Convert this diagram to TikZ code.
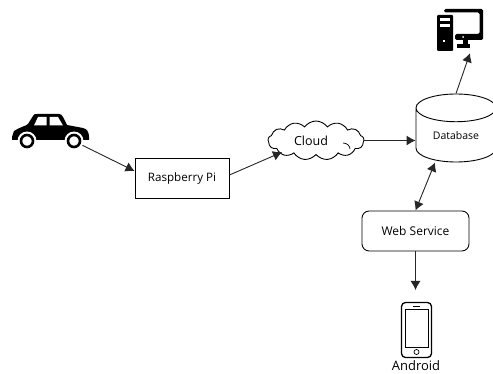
\documentclass[tikz,border=0pt]{standalone}
\usepackage{fontspec}
\setmainfont{Open Sans}
\usetikzlibrary{arrows.meta,shapes.geometric,shapes.symbols}
\begin{document}
\begin{tikzpicture}[x=1pt,y=-1pt,
        box/.style={draw=black,rectangle,line width=0.9pt,inner sep=0pt,minimum width=94pt,minimum height=40pt,font=\fontsize{11.6}{13}\selectfont},
        roundbox/.style={box,rounded corners=2.5mm,minimum width=107pt,font=\fontsize{12}{14}\selectfont},
        icon/.style={rectangle,inner sep=0pt},
        conn/.style={draw=black!85,line width=0.9pt,-{Latex[length=9pt,width=10pt]}}
      ]
      \useasboundingbox (0,0) rectangle (493,374);
      % icons are empty nodes, their shapes are drawn after the connectors
      \node[icon,minimum width=78pt,minimum height=33pt] (car) at (51,130.5) {};
      \node[icon,minimum width=46pt,minimum height=42pt] (pc) at (460,30) {};
      \node[icon,minimum width=31pt,minimum height=56pt] (phone) at (416.5,330) {};
      \node[box] (pi) at (182,178) {Raspberry Pi};
      \node[draw=black,cloud,cloud puffs=13,cloud puff arc=110,aspect=2.5,line width=0.9pt,inner sep=0pt,minimum width=96pt,minimum height=39pt,font=\fontsize{12.5}{14}\selectfont] (cloud) at (316,140.5) {\raisebox{-2pt}{Cloud\hspace*{10pt}}};
      \node[draw=black,cylinder,shape border rotate=90,aspect=0.6,line width=0.9pt,minimum width=80pt,minimum height=68pt,inner sep=0pt,anchor=shape center,font=\fontsize{10.5}{12}\selectfont] (db) at (456,128) {Database};
      \node[roundbox] (web) at (415.5,231) {Web Service};
      \node[inner sep=0pt,font=\fontsize{13}{15}\selectfont] (android) at (416,366) {Android};

      \draw[conn] ([xshift=-8pt,yshift=2pt]car.south east) -- ([yshift=7pt]pi.west);
      \draw[conn] ([yshift=3pt]pi.east) -- ([xshift=-34pt,yshift=3pt]cloud.south);
      \draw[conn] (cloud.east) -- (db.west |- cloud.east);
      \draw[conn] (db.north) -- ([xshift=10pt,yshift=-2pt]pc.south);
      \draw[conn,{Latex[length=9pt,width=10pt]}-{Latex[length=9pt,width=10pt]}] ([xshift=-21pt]db.south) -- (web.north);
      \draw[conn] (web.south) -- (web.south |- 0,290);

      % cloud crease
      \draw[line width=0.7pt] (343,143) .. controls (347,143) and (350,146) .. (350,149);
      % car
      \fill (12,137) -- (14,131) .. controls (20,127) and (26,126) .. (28,124) -- (33,116) .. controls (34,114) and (35,114) .. (37,114) -- (59,114) .. controls (61,114) and (62,115) .. (63,117) -- (67,125) -- (83,128) .. controls (87,129) and (89,132) .. (89,137) -- (89,140) -- (12,140) -- cycle;
      \fill[white] (34,125.5) -- (38,117) -- (46.5,117) -- (46.5,125.5) -- cycle;
      \fill[white] (49.5,117) -- (58,117) -- (63,125.5) -- (49.5,125.5) -- cycle;
      \foreach \wheelx in {27,74} {
        \fill[white] (\wheelx,141) circle (9.5pt);
        \draw[line width=2.6pt] (\wheelx,141) circle (6pt);
      }
      % computer
      \fill[rounded corners=1.5pt] (444,9) -- (483,9) -- (483,40) -- (455,40) -- (455,34) -- (479.5,34) -- (479.5,12.5) -- (444,12.5) -- cycle;
      \fill[rounded corners=1pt] (437,15) rectangle (453,51);
      \fill[white] (440,18) rectangle (450,21);
      \fill[white] (440,24) rectangle (450,27);
      \fill[white] (442.5,40) rectangle (444.5,42);
      \fill[white] (463,37) circle (1pt);
      \fill (463,40) rectangle (468,44);
      \fill (457,44) -- (470,44) -- (470,48) -- (457,48) -- cycle;
      % phone
      \draw[line width=1.3pt,rounded corners=4pt] (401.5,302.5) rectangle (431.5,357.5);
      \draw[line width=0.8pt] (405,309) rectangle (428,347);
      \draw[line width=0.8pt] (413,306) -- (420,306);
      \draw[line width=0.7pt] (416.5,352) circle (2.5pt);
    \end{tikzpicture}
\end{document}
